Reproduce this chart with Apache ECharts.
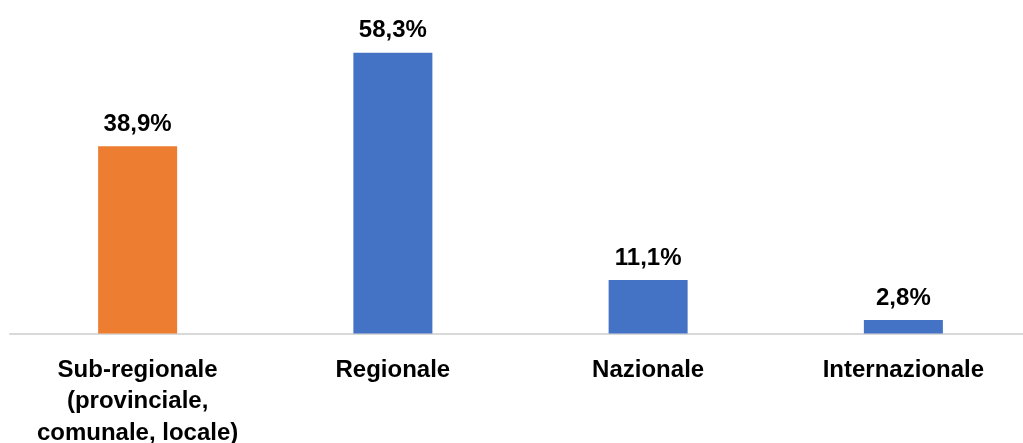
<!DOCTYPE html>
<html>
<head>
<meta charset="utf-8">
<script src="https://cdn.jsdelivr.net/npm/echarts@6/dist/echarts.min.js"></script>
<style>
  html, body { margin: 0; padding: 0; background: #fff; }
  #chart { width: 1023px; height: 443px; }
</style>
</head>
<body>
<div id="chart"></div>
<script>
const categories = ['Sub-regionale\n(provinciale,\ncomunale, locale)', 'Regionale', 'Nazionale', 'Internazionale'];
const values = [38.9, 58.3, 11.1, 2.8];
const barColors = ['#ED7D31', '#4472C4', '#4472C4', '#4472C4'];

const chart = echarts.init(document.getElementById('chart'));

const option = {
    animation: false,
    grid: {
        left: 10,
        width: 1021,
        top: 44.5,
        height: 289,
        outerBoundsMode: 'none',
        containLabel: false
    },
    xAxis: {
        type: 'category',
        data: categories,
        axisTick: {show: false},
        axisLine: {lineStyle: {color: '#d9d9d9', width: 2}},
        axisLabel: {
            interval: 0,
            margin: 21,
            color: '#000',
            fontFamily: 'Liberation Sans, Arial, sans-serif',
            fontWeight: 'bold',
            fontSize: 24,
            lineHeight: 31.5
        }
    },
    yAxis: {
        type: 'value',
        min: 0,
        max: 60,
        show: false,
        splitLine: {show: false}
    },
    series: [{
        type: 'bar',
        barWidth: 79,
        data: values.map(function (v, i) {
            return {value: v, itemStyle: {color: barColors[i]}};
        }),
        label: {
            show: true,
            position: 'top',
            distance: 10,
            color: '#000',
            fontFamily: 'Liberation Sans, Arial, sans-serif',
            fontWeight: 'bold',
            fontSize: 24,
            formatter: function (p) {
                return p.value.toFixed(1).replace('.', ',') + '%';
            }
        }
    }]
};

chart.setOption(option);
</script>
</body>
</html>
